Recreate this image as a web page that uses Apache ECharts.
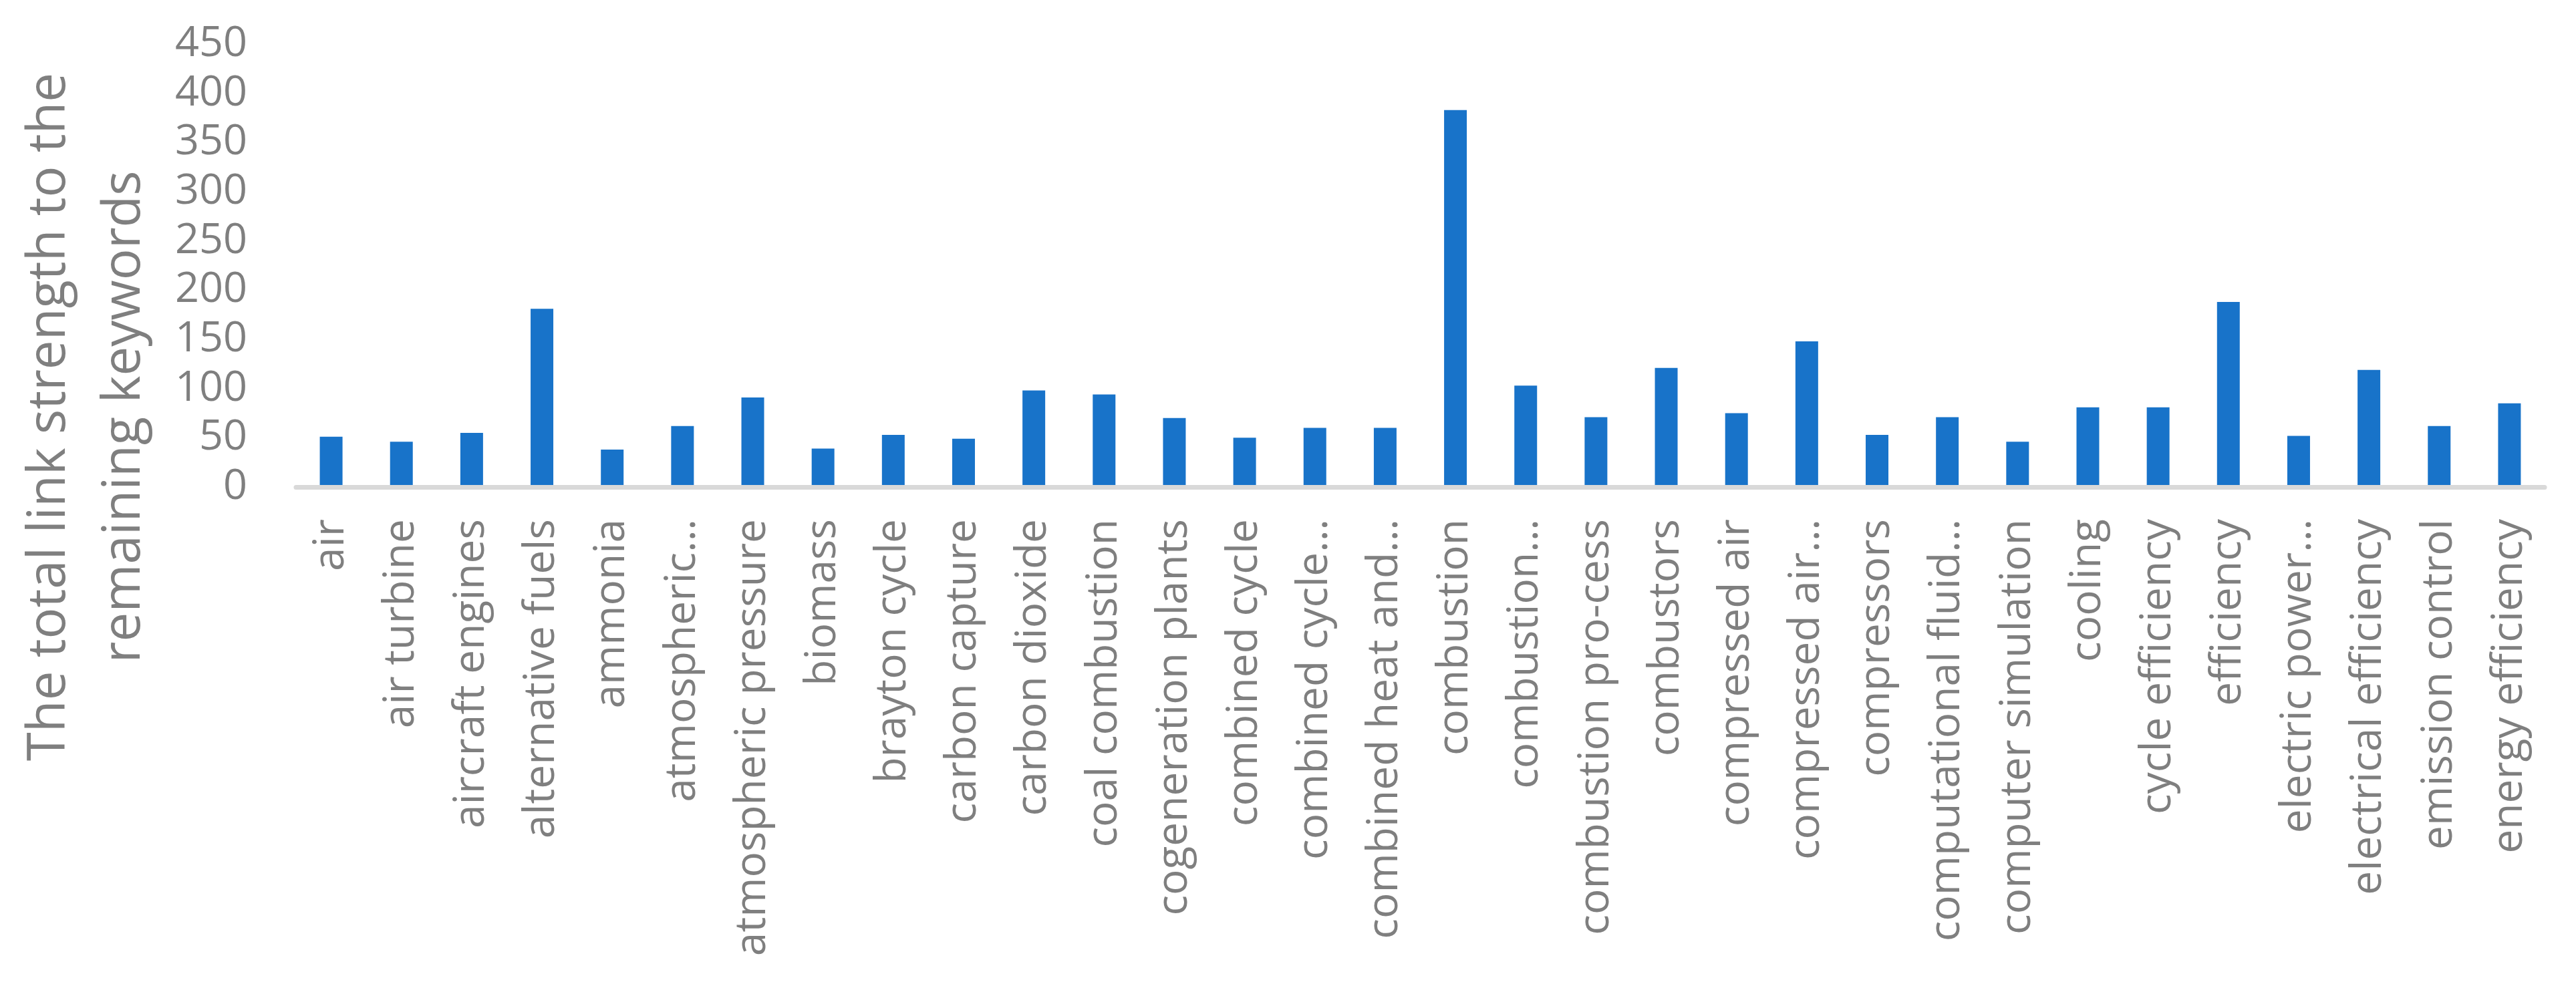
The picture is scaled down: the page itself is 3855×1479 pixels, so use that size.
<!DOCTYPE html>
<html>
<head>
<meta charset="utf-8">
<title>Total link strength</title>
<script src="https://cdn.jsdelivr.net/npm/echarts@6/dist/echarts.min.js"></script>
<style>
  html, body { margin: 0; padding: 0; background: #fff; }
  #main { width: 3855px; height: 1479px; }
</style>
</head>
<body>
<div id="main"></div>
<script>
// keywords on the x axis (truncated ones kept as in the picture)
const keywords = [
  'air', 'air turbine', 'aircraft engines', 'alternative fuels', 'ammonia',
  'atmospheric…', 'atmospheric pressure', 'biomass', 'brayton cycle', 'carbon capture',
  'carbon dioxide', 'coal combustion', 'cogeneration plants', 'combined cycle', 'combined cycle…',
  'combined heat and…', 'combustion', 'combustion…', 'combustion pro-cess', 'combustors',
  'compressed air', 'compressed air…', 'compressors', 'computational fluid…', 'computer simulation',
  'cooling', 'cycle efficiency', 'efficiency', 'electric power…', 'electrical efficiency',
  'emission control', 'energy efficiency'
];
// total link strength per keyword
const linkStrength = [
  51, 46, 55, 181, 38,
  62, 91, 39, 53, 49,
  98, 94, 70, 50, 60,
  60, 383, 103, 71, 121,
  75, 148, 53, 71, 46,
  81, 81, 188, 52, 119,
  62, 85
];
const yMax = 450;
const yStep = 50;
const yTitle = ['The total link strength to the', 'remaining keywords'];

const grey = '#7f7f7f';
const font = '"Open Sans", "Noto Sans", sans-serif';

const myChart = echarts.init(document.getElementById('main'));
myChart.setOption({
  animation: false,
  grid: {
    left: 443,
    right: 47,
    top: 66,
    bottom: 750,
    containLabel: false
  },
  xAxis: {
    type: 'category',
    data: keywords,
    z: 3,
    axisTick: { show: false },
    axisLine: { lineStyle: { color: '#d9d9d9', width: 7 } },
    axisLabel: {
      interval: 0,
      rotate: 90,
      margin: 48,
      color: grey,
      fontFamily: font,
      fontSize: 64
    }
  },
  yAxis: {
    type: 'value',
    min: 0,
    max: yMax,
    interval: yStep,
    axisLine: { show: false },
    axisTick: { show: false },
    splitLine: { show: false },
    axisLabel: {
      margin: 73,
      color: grey,
      fontFamily: font,
      fontSize: 63
    }
  },
  graphic: [
    {
      // axis title, two lines, reads bottom to top
      type: 'text',
      x: 131,
      y: 624,
      rotation: Math.PI / 2,
      style: {
        text: yTitle.join('\n'),
        align: 'center',
        verticalAlign: 'middle',
        fill: grey,
        font: '78px ' + font,
        lineHeight: 112
      }
    }
  ],
  series: [
    {
      type: 'bar',
      data: linkStrength,
      barWidth: 34,
      itemStyle: { color: '#1873c9' }
    }
  ]
});
</script>
</body>
</html>
